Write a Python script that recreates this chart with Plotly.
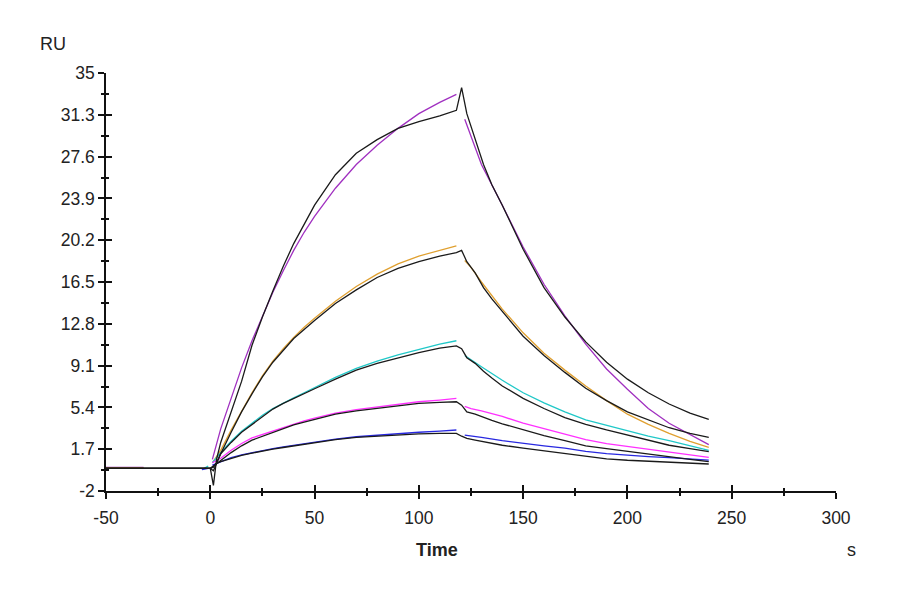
"""SPR sensorgram: five concentrations, black = measured, colour = 1:1 fit."""

import plotly.graph_objects as go

# --- data ------------------------------------------------------------------
BLACK_T = [-50, 0, 1.5, 3, 5, 10, 15, 20, 25, 30, 35, 40, 45, 50, 60, 70, 80, 90, 100,
           110, 118, 120.5, 123, 127, 131, 135, 140, 150, 160, 170, 180, 190, 200, 210,
           220, 230, 239]

black_1 = [0, 0, -1.5, 0.8, 2.3, 5.0, 7.7, 10.9, 13.4, 15.7, 17.9, 19.9, 21.6, 23.3, 26.0,
           27.9, 29.1, 30.1, 30.7, 31.2, 31.7, 33.7, 31.4, 29.2, 26.9, 25.1, 23.3, 19.4,
           16.0, 13.4, 11.2, 9.4, 7.9, 6.7, 5.7, 4.9, 4.35]
black_2 = [0, 0, -0.2, 0.5, 1.3, 3.2, 5.0, 6.6, 8.1, 9.4, 10.5, 11.5, 12.3, 13.1, 14.6,
           15.8, 16.9, 17.7, 18.3, 18.8, 19.1, 19.3, 18.3, 17.3, 16.0, 15.0, 13.9, 11.7,
           10.0, 8.5, 7.1, 6.0, 5.0, 4.3, 3.6, 3.1, 2.75]
black_3 = [0, 0, 0.1, 0.5, 1.3, 2.3, 3.2, 3.9, 4.6, 5.25, 5.75, 6.2, 6.65, 7.05, 7.9, 8.7,
           9.3, 9.8, 10.25, 10.65, 10.85, 10.6, 9.8, 9.3, 8.6, 8.0, 7.3, 6.2, 5.3, 4.5, 3.9,
           3.4, 2.95, 2.5, 2.05, 1.75, 1.48]
black_4 = [0, 0, 0.2, 0.45, 0.7, 1.4, 2.0, 2.5, 2.85, 3.2, 3.55, 3.85, 4.1, 4.35, 4.8, 5.1,
           5.3, 5.55, 5.75, 5.85, 5.9, 5.6, 5.0, 4.8, 4.5, 4.25, 3.95, 3.4, 2.9, 2.45, 2.0,
           1.75, 1.5, 1.3, 1.0, 0.8, 0.6]
black_5 = [0, 0, 0.2, 0.45, 0.6, 0.9, 1.15, 1.35, 1.55, 1.7, 1.85, 2.0, 2.15, 2.3, 2.55,
           2.75, 2.85, 3.0, 3.05, 3.1, 3.1, 2.85, 2.65, 2.5, 2.35, 2.2, 2.05, 1.8, 1.55,
           1.35, 1.1, 0.85, 0.72, 0.65, 0.58, 0.48, 0.39]

FIT_ASSOC_T = [1, 5, 10, 15, 20, 25, 30, 35, 40, 45, 50, 60, 70, 80, 90, 100, 110, 118]
FIT_DISSOC_T = [122, 125, 130, 140, 150, 160, 170, 180, 190, 200, 210, 220, 230, 239]

fit_1_assoc = [0.8, 3.5, 6.2, 8.9, 11.3, 13.5, 15.6, 17.5, 19.3, 20.9, 22.3, 24.8, 26.9,
               28.6, 30.1, 31.4, 32.4, 33.1]
fit_1_dissoc = [30.9, 29.4, 26.9, 23.3, 19.6, 16.3, 13.5, 11.0, 8.8, 7.0, 5.3, 4.0, 3.0, 2.1]
fit_2_assoc = [0.5, 1.6, 3.4, 5.1, 6.7, 8.2, 9.5, 10.6, 11.6, 12.5, 13.3, 14.8, 16.1, 17.2,
               18.1, 18.8, 19.3, 19.7]
fit_2_dissoc = [18.4, 17.8, 16.5, 14.1, 12.0, 10.2, 8.7, 7.3, 6.0, 4.8, 3.9, 3.1, 2.4, 1.87]
fit_3_assoc = [0.5, 1.4, 2.4, 3.3, 4.0, 4.7, 5.3, 5.8, 6.25, 6.7, 7.15, 8.05, 8.85, 9.5,
               10.05, 10.55, 11.0, 11.3]
fit_3_dissoc = [10.0, 9.6, 9.0, 7.8, 6.7, 5.8, 5.0, 4.3, 3.8, 3.3, 2.85, 2.45, 2.0, 1.6]
fit_4_assoc = [0.5, 0.9, 1.6, 2.2, 2.7, 3.0, 3.3, 3.65, 3.95, 4.2, 4.45, 4.9, 5.2, 5.45,
               5.7, 5.9, 6.05, 6.2]
fit_4_dissoc = [5.5, 5.3, 5.1, 4.6, 4.0, 3.5, 3.0, 2.55, 2.2, 1.95, 1.7, 1.45, 1.2, 0.98]
fit_5_assoc = [0.3, 0.6, 0.95, 1.2, 1.4, 1.6, 1.75, 1.9, 2.05, 2.2, 2.35, 2.6, 2.8, 2.95,
               3.1, 3.2, 3.3, 3.4]
fit_5_dissoc = [2.95, 2.85, 2.75, 2.45, 2.2, 2.0, 1.8, 1.5, 1.3, 1.15, 1.05, 0.95, 0.85, 0.74]

# short pre-injection pieces of the fitted curves
fit_base_t = {1: [-50, -32], 2: [-50, -32], 3: [-4, -1], 5: [-4, -1]}
fit_base_v = {1: [0.1, 0.1], 2: [0.05, 0.05], 3: [-0.1, 0.2], 5: [-0.1, 0.0]}

FIT_COLORS = ["#a030c0", "#e0a030", "#20c8c8", "#ff30ff", "#2828e0"]

X_TICKS = [-50, 0, 50, 100, 150, 200, 250, 300]
X_TICK_TEXT = ["-50", "0", "50", "100", "150", "200", "250", "300"]
Y_TICKS = [-2, 1.7, 5.4, 9.1, 12.8, 16.5, 20.2, 23.9, 27.6, 31.3, 35]
Y_TICK_TEXT = ["-2", "1.7", "5.4", "9.1", "12.8", "16.5", "20.2", "23.9", "27.6", "31.3", "35"]

FONT = "Liberation Sans, Arial, sans-serif"
# the page body has an 8 px margin, so the figure sits 8 px in from the window edge
PAGE_OFF = 8
M_L, M_R, M_T, M_B = 98, 72, 65, 111


def fit_trace(idx, assoc, dissoc):
    xs, ys = [], []
    if idx in fit_base_t:
        xs += fit_base_t[idx] + [None]
        ys += fit_base_v[idx] + [None]
    xs += FIT_ASSOC_T + [None] + FIT_DISSOC_T
    ys += assoc + [None] + dissoc
    return go.Scatter(x=xs, y=ys, mode="lines", connectgaps=False,
                      line={"color": FIT_COLORS[idx - 1], "width": 1.3},
                      hoverinfo="skip", showlegend=False)


fig = go.Figure()
fits = [(fit_1_assoc, fit_1_dissoc), (fit_2_assoc, fit_2_dissoc), (fit_3_assoc, fit_3_dissoc),
        (fit_4_assoc, fit_4_dissoc), (fit_5_assoc, fit_5_dissoc)]
for i, (a, d) in enumerate(fits, start=1):
    fig.add_trace(fit_trace(i, a, d))

for vals in [black_1, black_2, black_3, black_4, black_5]:
    fig.add_trace(go.Scatter(x=BLACK_T, y=vals, mode="lines",
                             line={"color": "#1a1a1a", "width": 1.3},
                             hoverinfo="skip", showlegend=False))

# dummy trace so the overlay axes (inner half of the crossing ticks) get drawn
fig.add_trace(go.Scatter(x=[None], y=[None], xaxis="x2", yaxis="y2", showlegend=False))

tick_font = {"family": FONT, "size": 17.5, "color": "#222"}
xax = dict(range=[-50, 300], tickvals=X_TICKS, showgrid=False, zeroline=False,
           linecolor="#111", linewidth=1.5, tickcolor="#111", tickwidth=1.5)
yax = dict(range=[-2, 35], tickvals=Y_TICKS, showgrid=False, zeroline=False,
           linecolor="#111", linewidth=1.5, tickcolor="#111", tickwidth=1.5)

fig.update_layout(
    width=900, height=594,
    margin={"l": M_L, "r": M_R, "t": M_T, "b": M_B},
    plot_bgcolor="white", paper_bgcolor="white",
    xaxis=dict(xax, ticks="outside", ticklen=6, showline=True, tickfont=tick_font,
               ticktext=X_TICK_TEXT, ticklabelstandoff=4,
               minor={"dtick": 25, "ticks": "outside", "ticklen": 3, "tickcolor": "#111"}),
    yaxis=dict(yax, ticks="outside", ticklen=6, showline=True, tickfont=tick_font,
               ticktext=Y_TICK_TEXT,
               minor={"dtick": 1.85, "tick0": -2, "ticks": "outside", "ticklen": 3,
                      "tickcolor": "#111"}),
    xaxis2=dict(xax, overlaying="x", anchor="y2", ticks="inside", ticklen=6,
                showline=False, showticklabels=False,
                minor={"dtick": 25, "ticks": "inside", "ticklen": 3, "tickcolor": "#111"}),
    yaxis2=dict(yax, overlaying="y", anchor="x2", ticks="inside", ticklen=6,
                showline=False, showticklabels=False,
                minor={"dtick": 1.85, "tick0": -2, "ticks": "inside", "ticklen": 3,
                       "tickcolor": "#111"}),
)

# axis titles placed by window pixel position (centre of the text)
plot_w = 900 - M_L - M_R
plot_h = 594 - M_T - M_B
labels = [("RU", 53, 44), ("<b>Time</b>", 437, 550), ("s", 851, 550)]
for text, px, py in labels:
    fig.add_annotation(
        text=text, showarrow=False, xref="paper", yref="paper",
        x=(px - PAGE_OFF - M_L) / plot_w, y=(594 - M_B - (py - PAGE_OFF)) / plot_h,
        xanchor="center", yanchor="middle",
        font={"family": FONT, "size": 18, "color": "#222"},
    )

fig.write_html("out.html")
